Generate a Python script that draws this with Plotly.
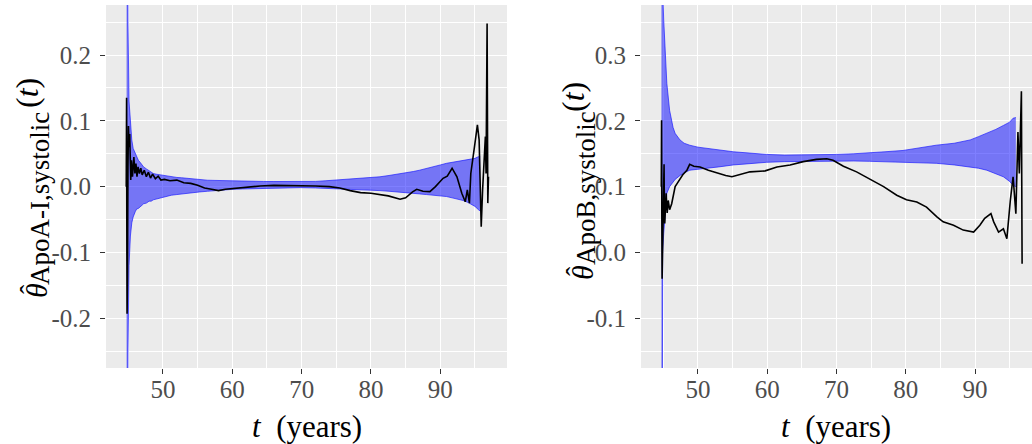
import plotly.graph_objects as go

# ---------------- Data ----------------
# Left panel: ApoA-I, systolic
a_band_t = [44.75, 44.95, 45.10, 45.30, 45.50, 45.70, 46.00, 46.20, 46.45, 46.70, 47.00, 47.20, 47.60,
            48.00, 48.30, 48.60, 49.00, 49.50, 50.00, 50.50, 51.20, 52.00, 52.70, 53.40, 54.30, 55.30,
            56.40, 57.50, 58.80, 60.10, 61.50, 63.00, 64.50, 66.00, 68.00, 69.80, 72.00, 73.50, 75.00,
            76.50, 78.00, 79.50, 81.30, 82.60, 84.00, 85.00, 86.10, 87.00, 88.00, 89.00, 90.00, 90.90,
            91.70, 92.50, 93.30, 94.00, 94.60, 95.00, 95.50, 95.75]
a_lower = [-0.95, -0.25, -0.12, -0.075, -0.055, -0.046, -0.038, -0.034, -0.033, -0.030, -0.028, -0.026, -0.025,
           -0.022, -0.022, -0.020, -0.019, -0.017, -0.016, -0.015, -0.013, -0.012, -0.011, -0.010, -0.009, -0.008,
           -0.007, -0.006, -0.005, -0.004, -0.0035, -0.003, -0.0025, -0.002, -0.002, -0.0015, -0.002, -0.0025, -0.003,
           -0.004, -0.005, -0.0055, -0.006, -0.007, -0.008, -0.0085, -0.010, -0.011, -0.012, -0.013, -0.014, -0.015,
           -0.017, -0.019, -0.021, -0.024, -0.027, -0.030, -0.035, -0.037]
a_upper = [0.95, 0.25, 0.13, 0.095, 0.071, 0.058, 0.050, 0.046, 0.040, 0.037, 0.033, 0.030, 0.027,
           0.024, 0.022, 0.020, 0.019, 0.018, 0.017, 0.016, 0.015, 0.014, 0.0135, 0.0128, 0.011, 0.010,
           0.0098, 0.0095, 0.009, 0.0087, 0.0083, 0.008, 0.0079, 0.0078, 0.0077, 0.0076, 0.008, 0.009, 0.010,
           0.011, 0.012, 0.0135, 0.015, 0.017, 0.019, 0.021, 0.023, 0.025, 0.028, 0.030, 0.033, 0.0355,
           0.037, 0.039, 0.040, 0.042, 0.042, 0.043, 0.0456, 0.046]

a_est_t = [44.70, 44.75, 44.78, 44.82, 44.88, 44.95, 45.02, 45.10, 45.20, 45.35, 45.45, 45.60,
           45.80, 45.95, 46.10, 46.25, 46.40, 46.60, 46.80, 47.00, 47.30, 47.60, 47.90, 48.20,
           48.50, 48.90, 49.30, 49.70, 50.20, 51.00, 52.00, 53.00, 54.00, 55.00, 56.00, 57.00,
           58.00, 59.00, 60.00, 61.00, 62.00, 63.00, 64.00, 66.00, 68.00, 70.00, 72.00, 74.00,
           75.50, 77.00, 78.50, 80.00, 81.30, 82.50, 84.20, 85.00, 86.00, 86.60, 87.50, 88.50,
           89.30, 90.40, 91.00, 91.70, 92.40, 93.10, 93.60, 93.90, 94.20, 94.40, 95.00, 95.35,
           95.60, 95.75, 95.90, 96.10, 96.30, 96.50, 96.60, 96.75, 96.85, 96.95]
a_est = [0.0, 0.135, -0.05, -0.193, -0.14, 0.03, 0.092, 0.06, 0.08, 0.010, 0.04, 0.015,
         0.045, 0.02, 0.035, 0.015, 0.03, 0.02, 0.028, 0.018, 0.025, 0.015, 0.022, 0.013,
         0.019, 0.012, 0.016, 0.010, 0.011, 0.009, 0.010, 0.006, 0.005, 0.002, -0.002, -0.004,
         -0.006, -0.004, -0.003, -0.002, 0.0, 0.001, 0.001, 0.002, 0.002, 0.002, 0.001, 0.0,
         -0.002, -0.006, -0.009, -0.010, -0.0126, -0.014, -0.019, -0.017, -0.008, -0.004, -0.007, -0.0076,
         0.0, 0.0127, 0.016, 0.028, 0.015, -0.010, -0.023, -0.005, -0.025, 0.020, 0.066, 0.094,
         0.071, 0.02, -0.061, -0.005, 0.05, 0.076, 0.02, 0.248, -0.025, 0.015]

# Right panel: ApoB, systolic
b_band_t = [44.72, 44.90, 45.05, 45.25, 45.50, 45.90, 46.40, 46.70, 47.40, 48.00, 48.80, 50.00, 51.30,
            53.00, 55.10, 57.50, 59.90, 62.50, 65.20, 67.50, 70.00, 72.50, 74.80, 77.00, 79.60, 82.00,
            84.40, 87.00, 89.30, 90.50, 91.70, 93.00, 94.10, 95.00, 95.50, 95.90]
b_lower = [-0.9, 0.0, 0.029, 0.06, 0.09, 0.10, 0.107, 0.111, 0.117, 0.121, 0.125, 0.126, 0.128,
           0.130, 0.133, 0.135, 0.137, 0.138, 0.1385, 0.139, 0.139, 0.139, 0.1385, 0.138, 0.137, 0.136,
           0.1355, 0.133, 0.1304, 0.128, 0.125, 0.120, 0.115, 0.108, 0.102, 0.100]
b_upper = [0.9, 0.40, 0.353, 0.30, 0.257, 0.216, 0.19, 0.181, 0.171, 0.166, 0.163, 0.160, 0.158,
           0.156, 0.153, 0.151, 0.149, 0.148, 0.148, 0.148, 0.149, 0.150, 0.151, 0.153, 0.155, 0.159,
           0.163, 0.166, 0.171, 0.176, 0.181, 0.187, 0.193, 0.198, 0.204, 0.205]

b_est_t = [44.70, 44.74, 44.78, 44.82, 44.90, 45.00, 45.10, 45.15, 45.20, 45.40, 45.55, 45.70,
           45.90, 46.20, 46.45, 46.70, 47.00, 47.40, 47.80, 48.40, 48.80, 49.40, 50.30, 51.50,
           52.70, 54.00, 54.90, 56.10, 57.50, 59.70, 61.40, 63.30, 65.20, 67.10, 68.60, 69.50,
           71.00, 72.90, 74.80, 76.80, 78.70, 80.10, 81.60, 83.00, 84.50, 85.40, 86.90, 88.30,
           89.80, 90.70, 91.40, 92.30, 92.70, 93.40, 94.10, 94.60, 95.10, 95.50, 95.90, 96.20,
           96.40, 96.70, 96.80]
b_est = [0.10, 0.201, 0.05, -0.04, 0.02, 0.08, 0.134, 0.06, 0.044, 0.09, 0.06, 0.079,
         0.065, 0.074, 0.09, 0.100, 0.105, 0.112, 0.118, 0.125, 0.134, 0.131, 0.130, 0.125,
         0.121, 0.117, 0.115, 0.119, 0.1225, 0.124, 0.130, 0.133, 0.138, 0.1415, 0.1425, 0.140,
         0.131, 0.1225, 0.112, 0.100, 0.087, 0.080, 0.0767, 0.069, 0.054, 0.0465, 0.0415, 0.034,
         0.031, 0.0415, 0.052, 0.059, 0.0465, 0.031, 0.036, 0.021, 0.079, 0.115, 0.059, 0.183,
         0.120, 0.245, -0.017]

x_ticks = [50, 60, 70, 80, 90]
x_ticklabels = ["50", "60", "70", "80", "90"]
a_yticks = [-0.2, -0.1, 0.0, 0.1, 0.2]
a_yticklabels = ["-0.2", "-0.1", "0.0", "0.1", "0.2"]
b_yticks = [-0.1, 0.0, 0.1, 0.2, 0.3]
b_yticklabels = ["-0.1", "0.0", "0.1", "0.2", "0.3"]

x_title = "<i>t</i>&nbsp; (years)"
a_sub = "ApoA-I,systolic"
b_sub = "ApoB,systolic"

# ---------------- Styling ----------------
FONT = "Liberation Serif"
BAND_LINE = "rgba(20,20,255,0.65)"
BAND_FILL = "rgba(0,0,255,0.5)"
W, H = 1032, 444

fig = go.Figure()


def add_panel(xa, ya, bt, lo, hi, et, est):
    fig.add_trace(go.Scatter(x=bt, y=lo, mode="lines", line=dict(color=BAND_LINE, width=1),
                             xaxis=xa, yaxis=ya, showlegend=False, hoverinfo="skip"))
    fig.add_trace(go.Scatter(x=bt, y=hi, mode="lines", line=dict(color=BAND_LINE, width=1),
                             fill="tonexty", fillcolor=BAND_FILL,
                             xaxis=xa, yaxis=ya, showlegend=False, hoverinfo="skip"))
    fig.add_trace(go.Scatter(x=et, y=est, mode="lines", line=dict(color="black", width=1.6),
                             xaxis=xa, yaxis=ya, showlegend=False))


add_panel("x", "y", a_band_t, a_lower, a_upper, a_est_t, a_est)
add_panel("x2", "y2", b_band_t, b_lower, b_upper, b_est_t, b_est)

ydom = [1 - 368 / H, 1 - 5 / H]

common_x = dict(showgrid=True, gridcolor="white", gridwidth=1.2, zeroline=False,
                ticks="outside", ticklen=5, tickwidth=1, tickcolor="#333333",
                tickfont=dict(family=FONT, size=25, color="#4D4D4D"),
                tickvals=x_ticks, ticktext=x_ticklabels, ticklabelstandoff=-6,
                minor=dict(dtick=5, tick0=0, showgrid=True, gridcolor="white", gridwidth=0.6, ticks=""),
                showline=False)
common_y = dict(showgrid=True, gridcolor="white", gridwidth=1.2, zeroline=False,
                ticks="outside", ticklen=5, tickwidth=1, tickcolor="#333333",
                tickfont=dict(family=FONT, size=25, color="#4D4D4D"), ticklabelstandoff=4,
                minor=dict(dtick=0.05, tick0=0, showgrid=True, gridcolor="white", gridwidth=0.6, ticks=""),
                showline=False, domain=ydom)


def ann(text, px, py, size, angle=0, italic=False):
    return dict(text=("<i>%s</i>" % text) if italic else text, x=px / W, y=1 - py / H,
                xref="paper", yref="paper", xanchor="center", yanchor="middle",
                textangle=angle, showarrow=False,
                font=dict(family=FONT, size=size, color="black"))


def y_title(dx, sub, th_y, sub_y, par_y):
    # pieces of  theta-hat_{sub}(t), rotated; dx = horizontal shift of the whole title
    return [
        ann("θ", 36 + dx, th_y, 30, -90, italic=True),
        ann("ˆ", 29 + dx, th_y - 2, 28, -90),
        ann(sub, 40 + dx, sub_y, 27, -90),
        ann("(<i>t</i>)", 27 + dx, par_y, 32, -90),
    ]


annotations = [ann(x_title, 306.5, 426, 31), ann(x_title, 836, 426, 31)]
annotations += y_title(0, a_sub, 291, 199, 93)
annotations += y_title(546, b_sub, 273, 188, 97)

fig.update_layout(
    width=W, height=H,
    margin=dict(l=0, r=0, t=0, b=0),
    paper_bgcolor="white",
    plot_bgcolor="#EBEBEB",
    xaxis=dict(domain=[106 / W, 507 / W], range=[41.78, 99.62], anchor="y", **common_x),
    yaxis=dict(range=[-0.2755, 0.276], anchor="x", tickvals=a_yticks, ticktext=a_yticklabels, **common_y),
    xaxis2=dict(domain=[641 / W, 1.0], range=[41.77, 98.23], anchor="y2", **common_x),
    yaxis2=dict(range=[-0.1755, 0.376], anchor="x2", tickvals=b_yticks, ticktext=b_yticklabels, **common_y),
    annotations=annotations,
)

fig.write_html("out.html")
